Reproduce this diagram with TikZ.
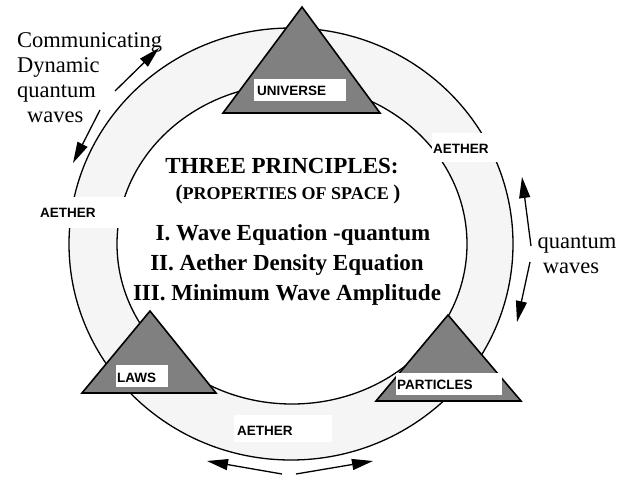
\documentclass[tikz,border=0pt]{standalone}
\usepackage{fontspec}
\setmainfont{Liberation Serif}
\newfontfamily\arialfont{Liberation Sans}
\usetikzlibrary{arrows.meta}
\definecolor{tgray}{RGB}{128,128,128}
\definecolor{ringfill}{RGB}{245,245,245}
\begin{document}
\begin{tikzpicture}[x=1pt,y=-1pt,
  ringline/.style={line width=1.3pt},
  tri/.style={draw=black, fill=tgray, line width=1.6pt, line join=miter},
  labbox/.style={fill=white, draw=none},
  lab/.style={font=\arialfont\bfseries\fontsize{13.5}{15}\selectfont, inner sep=0pt, anchor=base west},
  ctext/.style={font=\bfseries\fontsize{23}{25}\selectfont, inner sep=0pt, anchor=base},
  outtext/.style={font=\fontsize{22.5}{25}\selectfont, inner sep=0pt},
  wavearrow/.style={line width=1.3pt, -{Triangle[length=21pt,width=11pt]}}
]
\useasboundingbox (0,0) rectangle (631,479);
\fill[white] (0,0) rectangle (631,479);

% ring
\fill[ringfill, even odd rule] (291,244) ellipse [x radius=222, y radius=216]
      (292,244) ellipse [x radius=175, y radius=160];
\draw[ringline] (291,244) ellipse [x radius=222, y radius=216];
\draw[ringline] (292,244) ellipse [x radius=175, y radius=160];

% AETHER boxes
\fill[labbox] (58,197) rectangle (127,228);
\fill[labbox] (432,133) rectangle (498,162);
\fill[labbox] (234,415) rectangle (332,442);
\node[lab] (aether1) at (40,217) {AETHER};
\node[lab] (aether2) at (433,153) {AETHER};
\node[lab] (aether3) at (237,435) {AETHER};

% triangles
\draw[tri] (302,7) -- (380,113) -- (223,113) -- cycle;
\draw[tri] (150,311) -- (216,393) -- (82,393) -- cycle;
\draw[tri] (448,315) -- (521,401) -- (376,401) -- cycle;

% triangle labels
\fill[labbox] (254,79) rectangle (346,101);
\node[lab] (universe) at (257,95) {UNIVERSE};
\fill[labbox] (116,365) rectangle (168,387);
\node[lab] (laws) at (117,382) {LAWS};
\fill[labbox] (396,373) rectangle (502,395);
\node[lab] (particles) at (397,389) {PARTICLES};

% centre text
\node[ctext] (title) at (282,173) {THREE PRINCIPLES:};
\node[ctext] (props) at (288,199) {{\fontsize{21}{22}\selectfont(}{\fontsize{18}{20}\selectfont PROPERTIES OF SPACE\ }{\fontsize{21}{22}\selectfont)}};
\node[ctext] (p1) at (293,240) {I. Wave Equation -quantum};
\node[ctext] (p2) at (287,270) {II. Aether Density Equation};
\node[ctext] (p3) at (287,300) {III. Minimum Wave Amplitude};

% outside text
\node[outtext, anchor=base west] (c1) at (17,47) {Communicating};
\node[outtext, anchor=base west] (c2) at (17,72) {Dynamic};
\node[outtext, anchor=base west] (c3) at (17,97) {quantum};
\node[outtext, anchor=base west] (c4) at (27,122) {waves};
\node[outtext, anchor=base] (q1) at (577,248) {quantum};
\node[outtext, anchor=base] (q2) at (571,273) {waves};

% arrows
\coordinate (a1s) at (115,91);  \coordinate (a1e) at (159,48);
\coordinate (a2s) at (100,110); \coordinate (a2e) at (73,163);
\coordinate (a3s) at (531,246); \coordinate (a3e) at (522,177);
\coordinate (a4s) at (530,262); \coordinate (a4e) at (517,322);
\coordinate (a5s) at (282,474); \coordinate (a5e) at (207,461);
\coordinate (a6s) at (296,474); \coordinate (a6e) at (373,461);
\draw[wavearrow] (a1s) -- (a1e);
\draw[wavearrow] (a2s) -- (a2e);
\draw[wavearrow] (a3s) -- (a3e);
\draw[wavearrow] (a4s) -- (a4e);
\draw[wavearrow] (a5s) -- (a5e);
\draw[wavearrow] (a6s) -- (a6e);
\end{tikzpicture}
\end{document}
